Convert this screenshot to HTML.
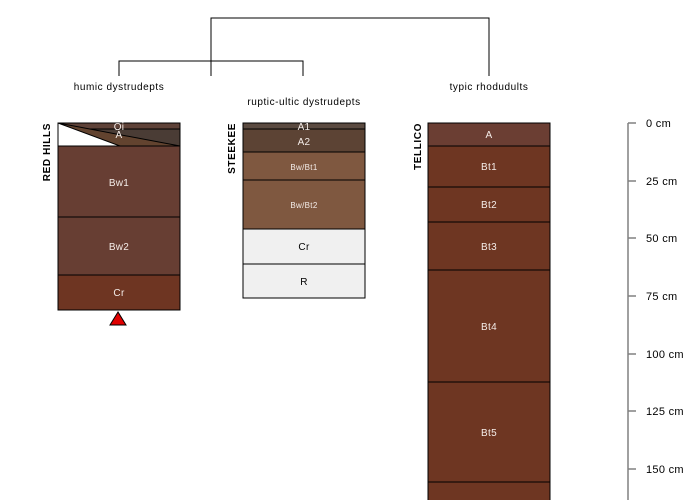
<!DOCTYPE html>
<html><head><meta charset="utf-8"><style>body{margin:0;background:#fff}svg{display:block}</style></head><body>
<svg width="700" height="500" xmlns="http://www.w3.org/2000/svg" font-family="Liberation Sans, sans-serif">
<g stroke="#000" stroke-width="1" fill="none">
<path d="M211 76V18H489V76"/>
<path d="M119 76V61H303V76"/>
</g>
<g font-size="10" fill="#000" text-anchor="middle" letter-spacing="0.55">
<text x="119" y="90">humic dystrudepts</text>
<text x="304" y="105">ruptic-ultic dystrudepts</text>
<text x="489" y="90">typic rhodudults</text>
</g>
<g stroke="#000" stroke-width="1">
<rect x="58" y="123" width="122" height="6" fill="#5e4238"/>
<rect x="58" y="129" width="122" height="17" fill="#4a3c35"/>
<polygon points="58,123 180,146 120,146" fill="#62432f" stroke="none"/>
<polygon points="58,123 120,146 58,146" fill="#fff" stroke="none"/>
<path d="M58 123L180 146M58 123L120 146" fill="none"/>
<rect x="58" y="123" width="122" height="23" fill="none"/>
<rect x="58" y="146" width="122" height="71" fill="#673e33"/>
<rect x="58" y="217" width="122" height="58" fill="#673e33"/>
<rect x="58" y="275" width="122" height="35" fill="#6e3522"/>
<polygon points="118,312 110,325 126,325" fill="#e00000"/>
<rect x="243" y="123" width="122" height="6" fill="#5a4a40"/>
<rect x="243" y="129" width="122" height="23" fill="#5c4334"/>
<rect x="243" y="152" width="122" height="28" fill="#7f5840"/>
<rect x="243" y="180" width="122" height="49" fill="#7f5840"/>
<rect x="243" y="229" width="122" height="35" fill="#f0f0f0"/>
<rect x="243" y="264" width="122" height="34" fill="#f0f0f0"/>
<rect x="428" y="123" width="122" height="23" fill="#6b3e33"/>
<rect x="428" y="146" width="122" height="41" fill="#6e3622"/>
<rect x="428" y="187" width="122" height="35" fill="#6e3622"/>
<rect x="428" y="222" width="122" height="48" fill="#6e3622"/>
<rect x="428" y="270" width="122" height="112" fill="#6e3622"/>
<rect x="428" y="382" width="122" height="100" fill="#6e3622"/>
<rect x="428" y="482" width="122" height="30" fill="#6e3622"/>
</g>
<g font-size="10" fill="#f4ece8" text-anchor="middle" letter-spacing="0.3">
<text x="119" y="130">Oi</text><text x="119" y="138">A</text>
<text x="119" y="186">Bw1</text><text x="119" y="250">Bw2</text><text x="119" y="296">Cr</text>
<text x="304" y="130">A1</text><text x="304" y="145">A2</text>
<text x="304" y="170" font-size="8">Bw/Bt1</text><text x="304" y="208" font-size="8">Bw/Bt2</text>
<text x="304" y="250" fill="#000">Cr</text><text x="304" y="285" fill="#000">R</text>
<text x="489" y="138">A</text><text x="489" y="170">Bt1</text><text x="489" y="208">Bt2</text>
<text x="489" y="250">Bt3</text><text x="489" y="330">Bt4</text><text x="489" y="436">Bt5</text>
</g>
<g font-size="10" font-weight="bold" fill="#000" letter-spacing="0.6">
<text transform="translate(50,123) rotate(-90)" text-anchor="end">RED HILLS</text>
<text transform="translate(235,123) rotate(-90)" text-anchor="end">STEEKEE</text>
<text transform="translate(421,123) rotate(-90)" text-anchor="end">TELLICO</text>
</g>
<g stroke="#808080" stroke-width="1.5">
<path d="M628 123V500"/>
<path d="M628 123h8M628 181h8M628 238h8M628 296h8M628 354h8M628 411h8M628 469h8"/>
</g>
<g font-size="11" fill="#000" letter-spacing="0.3">
<text x="646" y="127">0 cm</text><text x="646" y="185">25 cm</text><text x="646" y="242">50 cm</text>
<text x="646" y="300">75 cm</text><text x="646" y="358">100 cm</text><text x="646" y="415">125 cm</text><text x="646" y="473">150 cm</text>
</g>
</svg>
</body></html>
